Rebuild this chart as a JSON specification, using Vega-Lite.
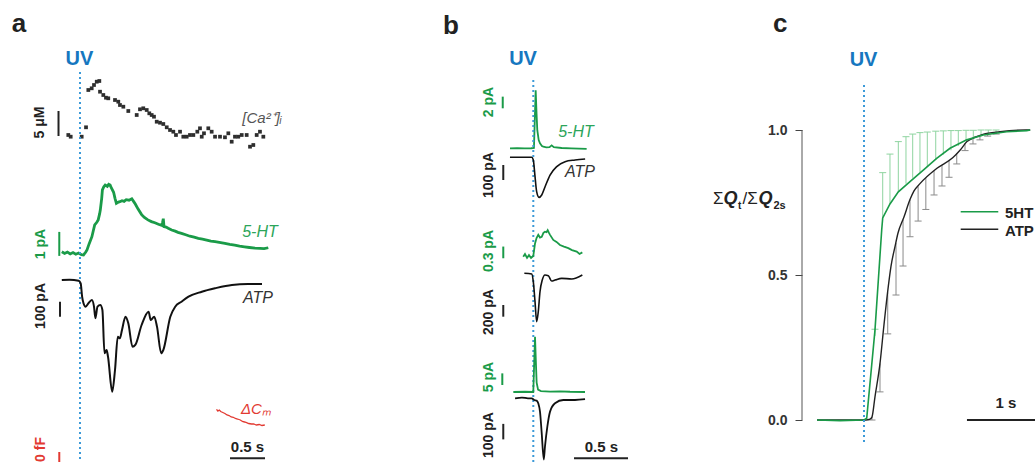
{
"$schema":"https://vega.github.io/schema/vega-lite/v6.json",
"padding":0,
"spacing":0,
"bounds":"flush",
"config":{"view":{"stroke":null},"text":{"font":"Liberation Sans"},"axis":{"labelFont":"Liberation Sans"}},
"datasets":{
"ca":[{"t":-0.167,"v":2.7},{"t":-0.133,"v":2.36},{"t":0.024,"v":2.36},{"t":0.086,"v":4.24},{"t":0.119,"v":11.7},{"t":0.167,"v":12.04},{"t":0.2,"v":12.7},{"t":0.239,"v":13.36},{"t":0.276,"v":13.5},{"t":0.286,"v":11.36},{"t":0.333,"v":10.7},{"t":0.371,"v":10.16},{"t":0.404,"v":10.04},{"t":0.5,"v":9.7},{"t":0.547,"v":9.36},{"t":0.571,"v":8.7},{"t":0.619,"v":8.36},{"t":0.69,"v":7.5},{"t":0.81,"v":6.7},{"t":0.857,"v":7.84},{"t":0.904,"v":8.04},{"t":0.953,"v":7.7},{"t":0.99,"v":7.04},{"t":1.024,"v":6.7},{"t":1.057,"v":6.36},{"t":1.096,"v":5.36},{"t":1.143,"v":5.16},{"t":1.19,"v":4.9},{"t":1.239,"v":4.24},{"t":1.286,"v":3.7},{"t":1.333,"v":3.36},{"t":1.371,"v":2.7},{"t":1.429,"v":3.36},{"t":1.476,"v":2.36},{"t":1.524,"v":2.36},{"t":1.571,"v":2.7},{"t":1.619,"v":2.7},{"t":1.676,"v":3.36},{"t":1.714,"v":4.04},{"t":1.739,"v":2.36},{"t":1.771,"v":3.04},{"t":1.833,"v":4.04},{"t":1.881,"v":3.36},{"t":1.929,"v":2.36},{"t":2.0,"v":2.36},{"t":2.071,"v":2.24},{"t":2.119,"v":3.04},{"t":2.167,"v":1.36},{"t":2.214,"v":2.36},{"t":2.261,"v":2.36},{"t":2.31,"v":2.7},{"t":2.381,"v":2.7},{"t":2.429,"v":0.36},{"t":2.476,"v":0.7},{"t":2.524,"v":2.7},{"t":2.571,"v":3.36},{"t":2.619,"v":2.36}],
"ht":[{"t":-0.26,"v":0.07},{"t":-0.22,"v":0.0},{"t":-0.18,"v":0.06},{"t":-0.14,"v":-0.02},{"t":-0.1,"v":0.04},{"t":-0.06,"v":-0.03},{"t":-0.02,"v":0.02},{"t":0.02,"v":-0.05},{"t":0.05,"v":-0.06},{"t":0.08,"v":0.05},{"t":0.1,"v":0.15},{"t":0.13,"v":0.4},{"t":0.17,"v":0.7},{"t":0.19,"v":0.95},{"t":0.21,"v":1.19},{"t":0.24,"v":1.3},{"t":0.26,"v":1.4},{"t":0.28,"v":1.65},{"t":0.29,"v":1.81},{"t":0.31,"v":2.3},{"t":0.32,"v":2.65},{"t":0.34,"v":2.78},{"t":0.36,"v":2.85},{"t":0.39,"v":2.8},{"t":0.41,"v":2.88},{"t":0.43,"v":2.85},{"t":0.45,"v":2.72},{"t":0.48,"v":2.55},{"t":0.5,"v":2.3},{"t":0.52,"v":2.09},{"t":0.55,"v":2.14},{"t":0.57,"v":2.16},{"t":0.6,"v":2.2},{"t":0.63,"v":2.17},{"t":0.66,"v":2.24},{"t":0.7,"v":2.22},{"t":0.74,"v":2.28},{"t":0.77,"v":2.15},{"t":0.79,"v":2.06},{"t":0.83,"v":1.85},{"t":0.88,"v":1.62},{"t":0.92,"v":1.5},{"t":0.97,"v":1.4},{"t":1.02,"v":1.33},{"t":1.07,"v":1.28},{"t":1.12,"v":1.22},{"t":1.17,"v":1.17},{"t":1.18,"v":1.3},{"t":1.19,"v":1.45},{"t":1.2,"v":1.12},{"t":1.23,"v":1.1},{"t":1.26,"v":1.05},{"t":1.31,"v":0.98},{"t":1.36,"v":0.93},{"t":1.4,"v":0.88},{"t":1.45,"v":0.84},{"t":1.51,"v":0.78},{"t":1.57,"v":0.72},{"t":1.63,"v":0.68},{"t":1.69,"v":0.63},{"t":1.75,"v":0.6},{"t":1.81,"v":0.56},{"t":1.87,"v":0.52},{"t":1.93,"v":0.49},{"t":1.99,"v":0.46},{"t":2.07,"v":0.42},{"t":2.14,"v":0.38},{"t":2.21,"v":0.35},{"t":2.28,"v":0.31},{"t":2.35,"v":0.28},{"t":2.42,"v":0.25},{"t":2.5,"v":0.22},{"t":2.57,"v":0.21},{"t":2.63,"v":0.2},{"t":2.69,"v":0.24}],
"atpa":[{"t":-0.26,"v":0},{"t":-0.15,"v":2},{"t":-0.02,"v":-5},{"t":0.01,"v":-22},{"t":0.03,"v":-111},{"t":0.05,"v":-155},{"t":0.08,"v":-178},{"t":0.12,"v":-155},{"t":0.17,"v":-133},{"t":0.2,"v":-178},{"t":0.22,"v":-255},{"t":0.25,"v":-178},{"t":0.29,"v":-167},{"t":0.32,"v":-200},{"t":0.35,"v":-489},{"t":0.38,"v":-467},{"t":0.4,"v":-511},{"t":0.46,"v":-745},{"t":0.5,"v":-600},{"t":0.54,"v":-378},{"t":0.57,"v":-389},{"t":0.6,"v":-333},{"t":0.65,"v":-245},{"t":0.69,"v":-289},{"t":0.75,"v":-445},{"t":0.79,"v":-433},{"t":0.88,"v":-300},{"t":0.98,"v":-211},{"t":1.01,"v":-267},{"t":1.06,"v":-245},{"t":1.1,"v":-311},{"t":1.16,"v":-489},{"t":1.19,"v":-467},{"t":1.29,"v":-245},{"t":1.36,"v":-178},{"t":1.45,"v":-145},{"t":1.55,"v":-111},{"t":1.74,"v":-78},{"t":1.93,"v":-55},{"t":2.17,"v":-33},{"t":2.4,"v":-27},{"t":2.6,"v":-27}],
"cm":[{"t":1.95,"v":41.4},{"t":1.97,"v":38},{"t":1.99,"v":40},{"t":2.01,"v":37},{"t":2.04,"v":35},{"t":2.07,"v":33},{"t":2.1,"v":30},{"t":2.13,"v":29},{"t":2.16,"v":26},{"t":2.19,"v":25.4},{"t":2.22,"v":23},{"t":2.25,"v":22},{"t":2.29,"v":20},{"t":2.32,"v":17},{"t":2.35,"v":16},{"t":2.38,"v":14.6},{"t":2.41,"v":13},{"t":2.45,"v":12},{"t":2.48,"v":12},{"t":2.52,"v":10},{"t":2.56,"v":11},{"t":2.6,"v":9},{"t":2.64,"v":10}],
"b1h":[{"t":-0.216,"v":0},{"t":-0.15,"v":0.02},{"t":-0.08,"v":-0.02},{"t":-0.02,"v":0.01},{"t":0.006,"v":0.05},{"t":0.014,"v":5},{"t":0.022,"v":9.95},{"t":0.03,"v":6},{"t":0.037,"v":3.1},{"t":0.05,"v":1.4},{"t":0.062,"v":0.86},{"t":0.08,"v":0.4},{"t":0.093,"v":0.27},{"t":0.12,"v":0.15},{"t":0.15,"v":0.2},{"t":0.17,"v":0.5},{"t":0.19,"v":0.2},{"t":0.263,"v":0.05},{"t":0.35,"v":0},{"t":0.494,"v":-0.1}],
"b1a":[{"t":-0.216,"v":0},{"t":-0.1,"v":0},{"t":-0.015,"v":0},{"t":0.0,"v":-18},{"t":0.016,"v":-129},{"t":0.031,"v":-229},{"t":0.053,"v":-267},{"t":0.078,"v":-251},{"t":0.109,"v":-196},{"t":0.155,"v":-118},{"t":0.217,"v":-62},{"t":0.294,"v":-29},{"t":0.387,"v":-18},{"t":0.48,"v":-11}],
"b2h":[{"t":-0.093,"v":0},{"t":-0.077,"v":0.07},{"t":-0.058,"v":-0.03},{"t":-0.04,"v":0.04},{"t":-0.021,"v":-0.03},{"t":0,"v":0.02},{"t":0.016,"v":0.34},{"t":0.03,"v":0.48},{"t":0.046,"v":0.56},{"t":0.062,"v":0.49},{"t":0.078,"v":0.51},{"t":0.094,"v":0.61},{"t":0.108,"v":0.64},{"t":0.122,"v":0.63},{"t":0.133,"v":0.68},{"t":0.145,"v":0.61},{"t":0.155,"v":0.56},{"t":0.185,"v":0.43},{"t":0.215,"v":0.38},{"t":0.247,"v":0.3},{"t":0.284,"v":0.26},{"t":0.324,"v":0.22},{"t":0.358,"v":0.17},{"t":0.402,"v":0.13},{"t":0.428,"v":0.07},{"t":0.454,"v":0.11}],
"b2a":[{"t":-0.083,"v":0},{"t":-0.015,"v":-12},{"t":0,"v":-144},{"t":0.016,"v":-486},{"t":0.031,"v":-828},{"t":0.046,"v":-657},{"t":0.062,"v":-315},{"t":0.083,"v":-115},{"t":0.108,"v":-29},{"t":0.139,"v":-41},{"t":0.17,"v":-132},{"t":0.201,"v":-115},{"t":0.263,"v":-86},{"t":0.356,"v":-97},{"t":0.454,"v":-29}],
"b3h":[{"t":-0.185,"v":0},{"t":-0.077,"v":0.1},{"t":0,"v":0},{"t":0.008,"v":12},{"t":0.016,"v":23.7},{"t":0.023,"v":14},{"t":0.031,"v":4},{"t":0.044,"v":1},{"t":0.071,"v":0.4},{"t":0.155,"v":0.2},{"t":0.247,"v":0.3},{"t":0.34,"v":0.1},{"t":0.479,"v":0}],
"b3a":[{"t":-0.169,"v":0},{"t":-0.105,"v":5},{"t":-0.049,"v":-1},{"t":-0.015,"v":0},{"t":0.009,"v":-11},{"t":0.031,"v":-15},{"t":0.046,"v":-32},{"t":0.062,"v":-86},{"t":0.078,"v":-226},{"t":0.097,"v":-395},{"t":0.108,"v":-312},{"t":0.13,"v":-183},{"t":0.155,"v":-86},{"t":0.201,"v":-32},{"t":0.278,"v":-11},{"t":0.386,"v":-11},{"t":0.479,"v":-6}],
"c5ht":[{"t":-0.608,"v":0},{"t":-0.31,"v":-0.002},{"t":0,"v":0},{"t":0.035,"v":0.006},{"t":0.142,"v":0.31},{"t":0.229,"v":0.655},{"t":0.242,"v":0.697},{"t":0.336,"v":0.745},{"t":0.444,"v":0.787},{"t":0.595,"v":0.822},{"t":0.767,"v":0.862},{"t":0.94,"v":0.902},{"t":1.113,"v":0.937},{"t":1.329,"v":0.966},{"t":1.543,"v":0.983},{"t":1.846,"v":0.994},{"t":2.105,"v":0.998},{"t":2.15,"v":1.0}],
"catp":[{"t":-0.608,"v":0},{"t":0.026,"v":0},{"t":0.078,"v":0.003},{"t":0.103,"v":0.01},{"t":0.142,"v":0.08},{"t":0.207,"v":0.195},{"t":0.259,"v":0.33},{"t":0.314,"v":0.46},{"t":0.349,"v":0.53},{"t":0.401,"v":0.598},{"t":0.44,"v":0.645},{"t":0.517,"v":0.7},{"t":0.595,"v":0.76},{"t":0.647,"v":0.79},{"t":0.724,"v":0.815},{"t":0.944,"v":0.868},{"t":1.151,"v":0.905},{"t":1.242,"v":0.93},{"t":1.332,"v":0.96},{"t":1.436,"v":0.975},{"t":1.539,"v":0.985},{"t":1.759,"v":0.994},{"t":2.096,"v":1.0},{"t":2.15,"v":1.0}],
"e5ht":[{"t":0.142,"m":0.29,"e":0.313},{"t":0.242,"m":0.697,"e":0.853},{"t":0.336,"m":0.745,"e":0.917},{"t":0.444,"m":0.787,"e":0.96},{"t":0.543,"m":0.815,"e":0.977},{"t":0.63,"m":0.835,"e":0.986},{"t":0.724,"m":0.855,"e":0.991},{"t":0.819,"m":0.872,"e":0.993},{"t":0.928,"m":0.898,"e":0.996},{"t":1.026,"m":0.915,"e":0.997},{"t":1.125,"m":0.93,"e":0.998},{"t":1.22,"m":0.945,"e":0.998},{"t":1.32,"m":0.962,"e":0.999},{"t":1.414,"m":0.97,"e":0.999},{"t":1.514,"m":0.978,"e":1.0},{"t":1.608,"m":0.985,"e":1.0},{"t":1.708,"m":0.99,"e":1.0}],
"eatp":[{"t":0.103,"m":0.01,"e":0.0},{"t":0.207,"m":0.195,"e":0.097},{"t":0.307,"m":0.44,"e":0.297},{"t":0.414,"m":0.61,"e":0.431},{"t":0.505,"m":0.69,"e":0.531},{"t":0.595,"m":0.76,"e":0.632},{"t":0.7,"m":0.805,"e":0.686},{"t":0.8,"m":0.835,"e":0.726},{"t":0.906,"m":0.86,"e":0.776},{"t":1.009,"m":0.88,"e":0.807},{"t":1.1,"m":0.897,"e":0.837},{"t":1.2,"m":0.92,"e":0.883},{"t":1.307,"m":0.955,"e":0.929},{"t":1.41,"m":0.972,"e":0.952},{"t":1.5,"m":0.982,"e":0.966},{"t":1.6,"m":0.988,"e":0.979},{"t":1.71,"m":0.993,"e":0.986}]
},
"hconcat":[
{"width":440,"height":462,"resolve":{"scale":{"y":"independent"}},
"layer":[
 {"layer":[
  {"data":{"name":"ca"},"mark":{"type":"square","size":14,"color":"#2e2e2e","opacity":1},
   "encoding":{"x":{"field":"t","type":"quantitative","scale":{"domain":[-1.142857,5.142857],"nice":false,"zero":false},"axis":null},"y":{"field":"v","type":"quantitative","scale":{"domain":[-62.7,29.7],"nice":false,"zero":false},"axis":null}}},
  {"data":{"values":[{}]},"mark":{"type":"rule","color":"#222","strokeWidth":2},
   "encoding":{"x":{"datum":-0.307,"type":"quantitative","scale":{"domain":[-1.142857,5.142857],"nice":false,"zero":false},"axis":null},"y":{"datum":2.5,"type":"quantitative","scale":{"domain":[-62.7,29.7],"nice":false,"zero":false},"axis":null},"y2":{"datum":7.5}}},
  {"data":{"values":[{}]},"mark":{"type":"text","text":"5 μM","angle":270,"align":"center","baseline":"middle","fontSize":14,"fontWeight":"bold","color":"#222"},
   "encoding":{"x":{"datum":-0.571,"type":"quantitative","scale":{"domain":[-1.142857,5.142857],"nice":false,"zero":false},"axis":null},"y":{"datum":5.2,"type":"quantitative","scale":{"domain":[-62.7,29.7],"nice":false,"zero":false},"axis":null}}},
  {"data":{"values":[{}]},"mark":{"type":"text","text":"a","align":"center","baseline":"alphabetic","fontSize":26,"fontWeight":"bold","color":"#222"},
   "encoding":{"x":{"datum":-0.871,"type":"quantitative","scale":{"domain":[-1.142857,5.142857],"nice":false,"zero":false},"axis":null},"y":{"datum":23.3,"type":"quantitative","scale":{"domain":[-62.7,29.7],"nice":false,"zero":false},"axis":null}}},
  {"data":{"values":[{}]},"mark":{"type":"text","text":"UV","align":"center","baseline":"alphabetic","fontSize":20,"fontWeight":"bold","color":"#1677c0"},
   "encoding":{"x":{"datum":-0.007,"type":"quantitative","scale":{"domain":[-1.142857,5.142857],"nice":false,"zero":false},"axis":null},"y":{"datum":16.7,"type":"quantitative","scale":{"domain":[-62.7,29.7],"nice":false,"zero":false},"axis":null}}},
  {"data":{"values":[{}]},"mark":{"type":"text","text":"[Ca²⁺]ᵢ","align":"center","baseline":"alphabetic","fontSize":15,"fontStyle":"italic","color":"#555"},
   "encoding":{"x":{"datum":2.6,"type":"quantitative","scale":{"domain":[-1.142857,5.142857],"nice":false,"zero":false},"axis":null},"y":{"datum":5.1,"type":"quantitative","scale":{"domain":[-62.7,29.7],"nice":false,"zero":false},"axis":null}}}
 ]},
 {"layer":[
  {"data":{"name":"ht"},"mark":{"type":"line","color":"#1a9b48","strokeWidth":2.8},
   "encoding":{"x":{"field":"t","type":"quantitative","scale":{"domain":[-1.142857,5.142857],"nice":false,"zero":false},"axis":null},"y":{"field":"v","type":"quantitative","scale":{"domain":[-8.6875,10.5625],"nice":false,"zero":false},"axis":null}}},
  {"data":{"values":[{}]},"mark":{"type":"rule","color":"#3c9ad8","strokeWidth":2,"strokeDash":[2,3],"clip":true},
   "encoding":{"x":{"datum":0,"type":"quantitative","scale":{"domain":[-1.142857,5.142857],"nice":false,"zero":false},"axis":null},"y":{"datum":7.5625,"type":"quantitative","scale":{"domain":[-8.6875,10.5625],"nice":false,"zero":false},"axis":null},"y2":{"datum":-8.6875}}},
  {"data":{"values":[{}]},"mark":{"type":"rule","color":"#1a9b48","strokeWidth":2},
   "encoding":{"x":{"datum":-0.296,"type":"quantitative","scale":{"domain":[-1.142857,5.142857],"nice":false,"zero":false},"axis":null},"y":{"datum":-0.1,"type":"quantitative","scale":{"domain":[-8.6875,10.5625],"nice":false,"zero":false},"axis":null},"y2":{"datum":0.9}}},
  {"data":{"values":[{}]},"mark":{"type":"text","text":"1 pA","angle":270,"align":"center","baseline":"middle","fontSize":14,"fontWeight":"bold","color":"#1a9b48"},
   "encoding":{"x":{"datum":-0.557,"type":"quantitative","scale":{"domain":[-1.142857,5.142857],"nice":false,"zero":false},"axis":null},"y":{"datum":0.396,"type":"quantitative","scale":{"domain":[-8.6875,10.5625],"nice":false,"zero":false},"axis":null}}},
  {"data":{"values":[{}]},"mark":{"type":"text","text":"5-HT","align":"center","baseline":"alphabetic","fontSize":16,"fontStyle":"italic","color":"#2ca55a"},
   "encoding":{"x":{"datum":2.571,"type":"quantitative","scale":{"domain":[-1.142857,5.142857],"nice":false,"zero":false},"axis":null},"y":{"datum":0.6875,"type":"quantitative","scale":{"domain":[-8.6875,10.5625],"nice":false,"zero":false},"axis":null}}}
 ]},
 {"layer":[
  {"data":{"name":"atpa"},"mark":{"type":"line","color":"#111","strokeWidth":2,"interpolate":"monotone"},
   "encoding":{"x":{"field":"t","type":"quantitative","scale":{"domain":[-1.142857,5.142857],"nice":false,"zero":false},"axis":null},"y":{"field":"v","type":"quantitative","scale":{"domain":[-1213.33,1866.67],"nice":false,"zero":false},"axis":null}}},
  {"data":{"values":[{}]},"mark":{"type":"rule","color":"#222","strokeWidth":2},
   "encoding":{"x":{"datum":-0.286,"type":"quantitative","scale":{"domain":[-1.142857,5.142857],"nice":false,"zero":false},"axis":null},"y":{"datum":-145,"type":"quantitative","scale":{"domain":[-1213.33,1866.67],"nice":false,"zero":false},"axis":null},"y2":{"datum":-245}}},
  {"data":{"values":[{}]},"mark":{"type":"text","text":"100 pA","angle":270,"align":"center","baseline":"middle","fontSize":14,"fontWeight":"bold","color":"#222"},
   "encoding":{"x":{"datum":-0.557,"type":"quantitative","scale":{"domain":[-1.142857,5.142857],"nice":false,"zero":false},"axis":null},"y":{"datum":-173,"type":"quantitative","scale":{"domain":[-1213.33,1866.67],"nice":false,"zero":false},"axis":null}}},
  {"data":{"values":[{}]},"mark":{"type":"text","text":"ATP","align":"center","baseline":"alphabetic","fontSize":16,"fontStyle":"italic","color":"#333"},
   "encoding":{"x":{"datum":2.543,"type":"quantitative","scale":{"domain":[-1.142857,5.142857],"nice":false,"zero":false},"axis":null},"y":{"datum":-153,"type":"quantitative","scale":{"domain":[-1213.33,1866.67],"nice":false,"zero":false},"axis":null}}}
 ]},
 {"layer":[
  {"data":{"name":"cm"},"mark":{"type":"line","color":"#e23a32","strokeWidth":1.3},
   "encoding":{"x":{"field":"t","type":"quantitative","scale":{"domain":[-1.142857,5.142857],"nice":false,"zero":false},"axis":null},"y":{"field":"v","type":"quantitative","scale":{"domain":[-64,860],"nice":false,"zero":false},"axis":null}}},
  {"data":{"values":[{}]},"mark":{"type":"rule","color":"#e23a32","strokeWidth":2,"clip":true},
   "encoding":{"x":{"datum":-0.296,"type":"quantitative","scale":{"domain":[-1.142857,5.142857],"nice":false,"zero":false},"axis":null},"y":{"datum":-44,"type":"quantitative","scale":{"domain":[-64,860],"nice":false,"zero":false},"axis":null},"y2":{"datum":-64}}},
  {"data":{"values":[{}]},"mark":{"type":"text","text":"50 fF","angle":270,"align":"center","baseline":"middle","fontSize":14,"fontWeight":"bold","color":"#e23a32","clip":true},
   "encoding":{"x":{"datum":-0.557,"type":"quantitative","scale":{"domain":[-1.142857,5.142857],"nice":false,"zero":false},"axis":null},"y":{"datum":-46.8,"type":"quantitative","scale":{"domain":[-64,860],"nice":false,"zero":false},"axis":null}}},
  {"data":{"values":[{}]},"mark":{"type":"text","text":"ΔCₘ","align":"center","baseline":"alphabetic","fontSize":15,"fontStyle":"italic","color":"#e23a32"},
   "encoding":{"x":{"datum":2.514,"type":"quantitative","scale":{"domain":[-1.142857,5.142857],"nice":false,"zero":false},"axis":null},"y":{"datum":32,"type":"quantitative","scale":{"domain":[-64,860],"nice":false,"zero":false},"axis":null}}},
  {"data":{"values":[{}]},"mark":{"type":"rule","color":"#222","strokeWidth":2},
   "encoding":{"x":{"datum":2.143,"type":"quantitative","scale":{"domain":[-1.142857,5.142857],"nice":false,"zero":false},"axis":null},"x2":{"datum":2.643},"y":{"datum":-56.6,"type":"quantitative","scale":{"domain":[-64,860],"nice":false,"zero":false},"axis":null}}},
  {"data":{"values":[{}]},"mark":{"type":"text","text":"0.5 s","align":"center","baseline":"alphabetic","fontSize":15,"fontWeight":"bold","color":"#222"},
   "encoding":{"x":{"datum":2.393,"type":"quantitative","scale":{"domain":[-1.142857,5.142857],"nice":false,"zero":false},"axis":null},"y":{"datum":-44,"type":"quantitative","scale":{"domain":[-64,860],"nice":false,"zero":false},"axis":null}}}
 ]}
]},
{"width":362,"height":462,"resolve":{"scale":{"y":"independent"}},
"layer":[
 {"layer":[
  {"data":{"name":"b1h"},"mark":{"type":"line","color":"#1a9b48","strokeWidth":1.8},
   "encoding":{"x":{"field":"t","type":"quantitative","scale":{"domain":[-0.8639,2.488],"nice":false,"zero":false},"axis":null},"y":{"field":"v","type":"quantitative","scale":{"domain":[-53.808,25.437],"nice":false,"zero":false},"axis":null}}},
  {"data":{"values":[{}]},"mark":{"type":"rule","color":"#3c9ad8","strokeWidth":2,"strokeDash":[2,3],"clip":true},
   "encoding":{"x":{"datum":0,"type":"quantitative","scale":{"domain":[-0.8639,2.488],"nice":false,"zero":false},"axis":null},"y":{"datum":11.71,"type":"quantitative","scale":{"domain":[-53.808,25.437],"nice":false,"zero":false},"axis":null},"y2":{"datum":-53.808}}},
  {"data":{"values":[{}]},"mark":{"type":"rule","color":"#1a9b48","strokeWidth":2},
   "encoding":{"x":{"datum":-0.283,"type":"quantitative","scale":{"domain":[-0.8639,2.488],"nice":false,"zero":false},"axis":null},"y":{"datum":6.86,"type":"quantitative","scale":{"domain":[-53.808,25.437],"nice":false,"zero":false},"axis":null},"y2":{"datum":8.86}}},
  {"data":{"values":[{}]},"mark":{"type":"text","text":"2 pA","angle":270,"align":"center","baseline":"middle","fontSize":14,"fontWeight":"bold","color":"#1a9b48"},
   "encoding":{"x":{"datum":-0.41,"type":"quantitative","scale":{"domain":[-0.8639,2.488],"nice":false,"zero":false},"axis":null},"y":{"datum":7.94,"type":"quantitative","scale":{"domain":[-53.808,25.437],"nice":false,"zero":false},"axis":null}}},
  {"data":{"values":[{}]},"mark":{"type":"text","text":"5-HT","align":"center","baseline":"alphabetic","fontSize":16,"fontStyle":"italic","color":"#2ca55a"},
   "encoding":{"x":{"datum":0.395,"type":"quantitative","scale":{"domain":[-0.8639,2.488],"nice":false,"zero":false},"axis":null},"y":{"datum":1.94,"type":"quantitative","scale":{"domain":[-53.808,25.437],"nice":false,"zero":false},"axis":null}}},
  {"data":{"values":[{}]},"mark":{"type":"text","text":"b","align":"center","baseline":"alphabetic","fontSize":26,"fontWeight":"bold","color":"#222"},
   "encoding":{"x":{"datum":-0.762,"type":"quantitative","scale":{"domain":[-0.8639,2.488],"nice":false,"zero":false},"axis":null},"y":{"datum":19.6,"type":"quantitative","scale":{"domain":[-53.808,25.437],"nice":false,"zero":false},"axis":null}}},
  {"data":{"values":[{}]},"mark":{"type":"text","text":"UV","align":"center","baseline":"alphabetic","fontSize":20,"fontWeight":"bold","color":"#1677c0"},
   "encoding":{"x":{"datum":-0.095,"type":"quantitative","scale":{"domain":[-0.8639,2.488],"nice":false,"zero":false},"axis":null},"y":{"datum":14.29,"type":"quantitative","scale":{"domain":[-53.808,25.437],"nice":false,"zero":false},"axis":null}}}
 ]},
 {"layer":[
  {"data":{"name":"b1a"},"mark":{"type":"line","color":"#111","strokeWidth":1.6,"interpolate":"monotone"},
   "encoding":{"x":{"field":"t","type":"quantitative","scale":{"domain":[-0.8639,2.488],"nice":false,"zero":false},"axis":null},"y":{"field":"v","type":"quantitative","scale":{"domain":[-2031.33,1048.67],"nice":false,"zero":false},"axis":null}}},
  {"data":{"values":[{}]},"mark":{"type":"rule","color":"#222","strokeWidth":2},
   "encoding":{"x":{"datum":-0.278,"type":"quantitative","scale":{"domain":[-0.8639,2.488],"nice":false,"zero":false},"axis":null},"y":{"datum":-51.3,"type":"quantitative","scale":{"domain":[-2031.33,1048.67],"nice":false,"zero":false},"axis":null},"y2":{"datum":-151.3}}},
  {"data":{"values":[{}]},"mark":{"type":"text","text":"100 pA","angle":270,"align":"center","baseline":"middle","fontSize":14,"fontWeight":"bold","color":"#222"},
   "encoding":{"x":{"datum":-0.41,"type":"quantitative","scale":{"domain":[-0.8639,2.488],"nice":false,"zero":false},"axis":null},"y":{"datum":-118,"type":"quantitative","scale":{"domain":[-2031.33,1048.67],"nice":false,"zero":false},"axis":null}}},
  {"data":{"values":[{}]},"mark":{"type":"text","text":"ATP","align":"center","baseline":"alphabetic","fontSize":16,"fontStyle":"italic","color":"#333"},
   "encoding":{"x":{"datum":0.432,"type":"quantitative","scale":{"domain":[-0.8639,2.488],"nice":false,"zero":false},"axis":null},"y":{"datum":-131,"type":"quantitative","scale":{"domain":[-2031.33,1048.67],"nice":false,"zero":false},"axis":null}}}
 ]},
 {"layer":[
  {"data":{"name":"b2h"},"mark":{"type":"line","color":"#1a9b48","strokeWidth":1.8},
   "encoding":{"x":{"field":"t","type":"quantitative","scale":{"domain":[-0.8639,2.488],"nice":false,"zero":false},"axis":null},"y":{"field":"v","type":"quantitative","scale":{"domain":[-5.264,6.582],"nice":false,"zero":false},"axis":null}}},
  {"data":{"values":[{}]},"mark":{"type":"rule","color":"#1a9b48","strokeWidth":2},
   "encoding":{"x":{"datum":-0.278,"type":"quantitative","scale":{"domain":[-0.8639,2.488],"nice":false,"zero":false},"axis":null},"y":{"datum":-0.04,"type":"quantitative","scale":{"domain":[-5.264,6.582],"nice":false,"zero":false},"axis":null},"y2":{"datum":0.26}}},
  {"data":{"values":[{}]},"mark":{"type":"text","text":"0.3 pA","angle":270,"align":"center","baseline":"middle","fontSize":14,"fontWeight":"bold","color":"#1a9b48"},
   "encoding":{"x":{"datum":-0.41,"type":"quantitative","scale":{"domain":[-0.8639,2.488],"nice":false,"zero":false},"axis":null},"y":{"datum":0.146,"type":"quantitative","scale":{"domain":[-5.264,6.582],"nice":false,"zero":false},"axis":null}}}
 ]},
 {"layer":[
  {"data":{"name":"b2a"},"mark":{"type":"line","color":"#111","strokeWidth":1.6,"interpolate":"monotone"},
   "encoding":{"x":{"field":"t","type":"quantitative","scale":{"domain":[-0.8639,2.488],"nice":false,"zero":false},"axis":null},"y":{"field":"v","type":"quantitative","scale":{"domain":[-3226.7,4673.4],"nice":false,"zero":false},"axis":null}}},
  {"data":{"values":[{}]},"mark":{"type":"rule","color":"#222","strokeWidth":2},
   "encoding":{"x":{"datum":-0.278,"type":"quantitative","scale":{"domain":[-0.8639,2.488],"nice":false,"zero":false},"axis":null},"y":{"datum":-542,"type":"quantitative","scale":{"domain":[-3226.7,4673.4],"nice":false,"zero":false},"axis":null},"y2":{"datum":-742}}},
  {"data":{"values":[{}]},"mark":{"type":"text","text":"200 pA","angle":270,"align":"center","baseline":"middle","fontSize":14,"fontWeight":"bold","color":"#222"},
   "encoding":{"x":{"datum":-0.41,"type":"quantitative","scale":{"domain":[-0.8639,2.488],"nice":false,"zero":false},"axis":null},"y":{"datum":-662,"type":"quantitative","scale":{"domain":[-3226.7,4673.4],"nice":false,"zero":false},"axis":null}}}
 ]},
 {"layer":[
  {"data":{"name":"b3h"},"mark":{"type":"line","color":"#1a9b48","strokeWidth":1.8},
   "encoding":{"x":{"field":"t","type":"quantitative","scale":{"domain":[-0.8639,2.488],"nice":false,"zero":false},"axis":null},"y":{"field":"v","type":"quantitative","scale":{"domain":[-30.043,168.24],"nice":false,"zero":false},"axis":null}}},
  {"data":{"values":[{}]},"mark":{"type":"rule","color":"#1a9b48","strokeWidth":2},
   "encoding":{"x":{"datum":-0.287,"type":"quantitative","scale":{"domain":[-0.8639,2.488],"nice":false,"zero":false},"axis":null},"y":{"datum":3,"type":"quantitative","scale":{"domain":[-30.043,168.24],"nice":false,"zero":false},"axis":null},"y2":{"datum":8}}},
  {"data":{"values":[{}]},"mark":{"type":"text","text":"5 pA","angle":270,"align":"center","baseline":"middle","fontSize":14,"fontWeight":"bold","color":"#1a9b48"},
   "encoding":{"x":{"datum":-0.41,"type":"quantitative","scale":{"domain":[-0.8639,2.488],"nice":false,"zero":false},"axis":null},"y":{"datum":6.44,"type":"quantitative","scale":{"domain":[-30.043,168.24],"nice":false,"zero":false},"axis":null}}}
 ]},
 {"layer":[
  {"data":{"name":"b3a"},"mark":{"type":"line","color":"#111","strokeWidth":1.8,"clip":true,"interpolate":"monotone"},
   "encoding":{"x":{"field":"t","type":"quantitative","scale":{"domain":[-0.8639,2.488],"nice":false,"zero":false},"axis":null},"y":{"field":"v","type":"quantitative","scale":{"domain":[-410.97,2569.7],"nice":false,"zero":false},"axis":null}}},
  {"data":{"values":[{}]},"mark":{"type":"rule","color":"#222","strokeWidth":2},
   "encoding":{"x":{"datum":-0.278,"type":"quantitative","scale":{"domain":[-0.8639,2.488],"nice":false,"zero":false},"axis":null},"y":{"datum":-165,"type":"quantitative","scale":{"domain":[-410.97,2569.7],"nice":false,"zero":false},"axis":null},"y2":{"datum":-265}}},
  {"data":{"values":[{}]},"mark":{"type":"text","text":"100 pA","angle":270,"align":"center","baseline":"middle","fontSize":14,"fontWeight":"bold","color":"#222","clip":true},
   "encoding":{"x":{"datum":-0.41,"type":"quantitative","scale":{"domain":[-0.8639,2.488],"nice":false,"zero":false},"axis":null},"y":{"datum":-237,"type":"quantitative","scale":{"domain":[-410.97,2569.7],"nice":false,"zero":false},"axis":null}}},
  {"data":{"values":[{}]},"mark":{"type":"rule","color":"#222","strokeWidth":2},
   "encoding":{"x":{"datum":0.377,"type":"quantitative","scale":{"domain":[-0.8639,2.488],"nice":false,"zero":false},"axis":null},"x2":{"datum":0.877},"y":{"datum":-387,"type":"quantitative","scale":{"domain":[-410.97,2569.7],"nice":false,"zero":false},"axis":null}}},
  {"data":{"values":[{}]},"mark":{"type":"text","text":"0.5 s","align":"center","baseline":"alphabetic","fontSize":15,"fontWeight":"bold","color":"#222"},
   "encoding":{"x":{"datum":0.631,"type":"quantitative","scale":{"domain":[-0.8639,2.488],"nice":false,"zero":false},"axis":null},"y":{"datum":-346,"type":"quantitative","scale":{"domain":[-410.97,2569.7],"nice":false,"zero":false},"axis":null}}}
 ]}
]},
{"width":233,"height":462,
"layer":[
 {"data":{"name":"e5ht"},"mark":{"type":"rule","color":"#8fd4a0","strokeWidth":1},
  "encoding":{"x":{"field":"t","type":"quantitative","scale":{"domain":[-0.8021,2.2122],"nice":false,"zero":false},"axis":null},"y":{"field":"m","type":"quantitative","scale":{"domain":[-0.1448,1.4483],"nice":false,"zero":false},"axis":{"values":[0,0.5,1],"format":".1f","domain":false,"grid":false,"ticks":true,"tickColor":"#444","tickWidth":1,"tickSize":7,"labelFontSize":14,"labelFontWeight":"bold","labelColor":"#333","labelPadding":8,"title":null}},"y2":{"field":"e"}}},
 {"data":{"name":"e5ht"},"mark":{"type":"tick","orient":"horizontal","size":7,"thickness":1,"color":"#8fd4a0","opacity":1},
  "encoding":{"x":{"field":"t","type":"quantitative","scale":{"domain":[-0.8021,2.2122],"nice":false,"zero":false},"axis":null},"y":{"field":"e","type":"quantitative","scale":{"domain":[-0.1448,1.4483],"nice":false,"zero":false},"axis":{"values":[0,0.5,1],"format":".1f","domain":false,"grid":false,"ticks":true,"tickColor":"#444","tickWidth":1,"tickSize":7,"labelFontSize":14,"labelFontWeight":"bold","labelColor":"#333","labelPadding":8,"title":null}}}},
 {"data":{"name":"eatp"},"mark":{"type":"rule","color":"#8a8a8a","strokeWidth":1},
  "encoding":{"x":{"field":"t","type":"quantitative","scale":{"domain":[-0.8021,2.2122],"nice":false,"zero":false},"axis":null},"y":{"field":"m","type":"quantitative","scale":{"domain":[-0.1448,1.4483],"nice":false,"zero":false},"axis":{"values":[0,0.5,1],"format":".1f","domain":false,"grid":false,"ticks":true,"tickColor":"#444","tickWidth":1,"tickSize":7,"labelFontSize":14,"labelFontWeight":"bold","labelColor":"#333","labelPadding":8,"title":null}},"y2":{"field":"e"}}},
 {"data":{"name":"eatp"},"mark":{"type":"tick","orient":"horizontal","size":7,"thickness":1,"color":"#8a8a8a","opacity":1},
  "encoding":{"x":{"field":"t","type":"quantitative","scale":{"domain":[-0.8021,2.2122],"nice":false,"zero":false},"axis":null},"y":{"field":"e","type":"quantitative","scale":{"domain":[-0.1448,1.4483],"nice":false,"zero":false},"axis":{"values":[0,0.5,1],"format":".1f","domain":false,"grid":false,"ticks":true,"tickColor":"#444","tickWidth":1,"tickSize":7,"labelFontSize":14,"labelFontWeight":"bold","labelColor":"#333","labelPadding":8,"title":null}}}},
 {"data":{"name":"catp"},"mark":{"type":"line","color":"#222","strokeWidth":1.4,"interpolate":"monotone"},
  "encoding":{"x":{"field":"t","type":"quantitative","scale":{"domain":[-0.8021,2.2122],"nice":false,"zero":false},"axis":null},"y":{"field":"v","type":"quantitative","scale":{"domain":[-0.1448,1.4483],"nice":false,"zero":false},"axis":{"values":[0,0.5,1],"format":".1f","domain":false,"grid":false,"ticks":true,"tickColor":"#444","tickWidth":1,"tickSize":7,"labelFontSize":14,"labelFontWeight":"bold","labelColor":"#333","labelPadding":8,"title":null}}}},
 {"data":{"name":"c5ht"},"mark":{"type":"line","color":"#1a9b48","strokeWidth":1.6},
  "encoding":{"x":{"field":"t","type":"quantitative","scale":{"domain":[-0.8021,2.2122],"nice":false,"zero":false},"axis":null},"y":{"field":"v","type":"quantitative","scale":{"domain":[-0.1448,1.4483],"nice":false,"zero":false},"axis":{"values":[0,0.5,1],"format":".1f","domain":false,"grid":false,"ticks":true,"tickColor":"#444","tickWidth":1,"tickSize":7,"labelFontSize":14,"labelFontWeight":"bold","labelColor":"#333","labelPadding":8,"title":null}}}},
 {"data":{"values":[{}]},"mark":{"type":"rule","color":"#3c9ad8","strokeWidth":2,"strokeDash":[2,3]},
  "encoding":{"x":{"datum":0,"type":"quantitative","scale":{"domain":[-0.8021,2.2122],"nice":false,"zero":false},"axis":null},"y":{"datum":1.155,"type":"quantitative","scale":{"domain":[-0.1448,1.4483],"nice":false,"zero":false},"axis":{"values":[0,0.5,1],"format":".1f","domain":false,"grid":false,"ticks":true,"tickColor":"#444","tickWidth":1,"tickSize":7,"labelFontSize":14,"labelFontWeight":"bold","labelColor":"#333","labelPadding":8,"title":null}},"y2":{"datum":-0.0862}}},
 {"data":{"values":[{}]},"mark":{"type":"rule","color":"#555","strokeWidth":1},
  "encoding":{"x":{"datum":-0.8021,"type":"quantitative","scale":{"domain":[-0.8021,2.2122],"nice":false,"zero":false},"axis":null},"y":{"datum":0,"type":"quantitative","scale":{"domain":[-0.1448,1.4483],"nice":false,"zero":false},"axis":{"values":[0,0.5,1],"format":".1f","domain":false,"grid":false,"ticks":true,"tickColor":"#444","tickWidth":1,"tickSize":7,"labelFontSize":14,"labelFontWeight":"bold","labelColor":"#333","labelPadding":8,"title":null}},"y2":{"datum":1}}},
 {"data":{"values":[{}]},"mark":{"type":"rule","color":"#1a9b48","strokeWidth":1.6},
  "encoding":{"x":{"datum":1.251,"type":"quantitative","scale":{"domain":[-0.8021,2.2122],"nice":false,"zero":false},"axis":null},"x2":{"datum":1.737},"y":{"datum":0.718,"type":"quantitative","scale":{"domain":[-0.1448,1.4483],"nice":false,"zero":false},"axis":{"values":[0,0.5,1],"format":".1f","domain":false,"grid":false,"ticks":true,"tickColor":"#444","tickWidth":1,"tickSize":7,"labelFontSize":14,"labelFontWeight":"bold","labelColor":"#333","labelPadding":8,"title":null}}}},
 {"data":{"values":[{}]},"mark":{"type":"rule","color":"#222","strokeWidth":1.4},
  "encoding":{"x":{"datum":1.251,"type":"quantitative","scale":{"domain":[-0.8021,2.2122],"nice":false,"zero":false},"axis":null},"x2":{"datum":1.737},"y":{"datum":0.658,"type":"quantitative","scale":{"domain":[-0.1448,1.4483],"nice":false,"zero":false},"axis":{"values":[0,0.5,1],"format":".1f","domain":false,"grid":false,"ticks":true,"tickColor":"#444","tickWidth":1,"tickSize":7,"labelFontSize":14,"labelFontWeight":"bold","labelColor":"#333","labelPadding":8,"title":null}}}},
 {"data":{"values":[{}]},"mark":{"type":"text","text":"5HT","align":"left","baseline":"alphabetic","fontSize":15,"fontWeight":"bold","color":"#222","clip":true},
  "encoding":{"x":{"datum":1.824,"type":"quantitative","scale":{"domain":[-0.8021,2.2122],"nice":false,"zero":false},"axis":null},"y":{"datum":0.697,"type":"quantitative","scale":{"domain":[-0.1448,1.4483],"nice":false,"zero":false},"axis":{"values":[0,0.5,1],"format":".1f","domain":false,"grid":false,"ticks":true,"tickColor":"#444","tickWidth":1,"tickSize":7,"labelFontSize":14,"labelFontWeight":"bold","labelColor":"#333","labelPadding":8,"title":null}}}},
 {"data":{"values":[{}]},"mark":{"type":"text","text":"ATP","align":"left","baseline":"alphabetic","fontSize":15,"fontWeight":"bold","color":"#222","clip":true},
  "encoding":{"x":{"datum":1.824,"type":"quantitative","scale":{"domain":[-0.8021,2.2122],"nice":false,"zero":false},"axis":null},"y":{"datum":0.636,"type":"quantitative","scale":{"domain":[-0.1448,1.4483],"nice":false,"zero":false},"axis":{"values":[0,0.5,1],"format":".1f","domain":false,"grid":false,"ticks":true,"tickColor":"#444","tickWidth":1,"tickSize":7,"labelFontSize":14,"labelFontWeight":"bold","labelColor":"#333","labelPadding":8,"title":null}}}},
 {"data":{"values":[{}]},"mark":{"type":"rule","color":"#222","strokeWidth":2,"clip":true},
  "encoding":{"x":{"datum":1.332,"type":"quantitative","scale":{"domain":[-0.8021,2.2122],"nice":false,"zero":false},"axis":null},"x2":{"datum":2.332},"y":{"datum":0,"type":"quantitative","scale":{"domain":[-0.1448,1.4483],"nice":false,"zero":false},"axis":{"values":[0,0.5,1],"format":".1f","domain":false,"grid":false,"ticks":true,"tickColor":"#444","tickWidth":1,"tickSize":7,"labelFontSize":14,"labelFontWeight":"bold","labelColor":"#333","labelPadding":8,"title":null}}}},
 {"data":{"values":[{}]},"mark":{"type":"text","text":"1 s","align":"center","baseline":"alphabetic","fontSize":15,"fontWeight":"bold","color":"#222"},
  "encoding":{"x":{"datum":1.837,"type":"quantitative","scale":{"domain":[-0.8021,2.2122],"nice":false,"zero":false},"axis":null},"y":{"datum":0.0414,"type":"quantitative","scale":{"domain":[-0.1448,1.4483],"nice":false,"zero":false},"axis":{"values":[0,0.5,1],"format":".1f","domain":false,"grid":false,"ticks":true,"tickColor":"#444","tickWidth":1,"tickSize":7,"labelFontSize":14,"labelFontWeight":"bold","labelColor":"#333","labelPadding":8,"title":null}}}},
 {"data":{"values":[{}]},"mark":{"type":"text","text":"c","align":"center","baseline":"alphabetic","fontSize":26,"fontWeight":"bold","color":"#222"},
  "encoding":{"x":{"datum":-1.083,"type":"quantitative","scale":{"domain":[-0.8021,2.2122],"nice":false,"zero":false},"axis":null},"y":{"datum":1.338,"type":"quantitative","scale":{"domain":[-0.1448,1.4483],"nice":false,"zero":false},"axis":{"values":[0,0.5,1],"format":".1f","domain":false,"grid":false,"ticks":true,"tickColor":"#444","tickWidth":1,"tickSize":7,"labelFontSize":14,"labelFontWeight":"bold","labelColor":"#333","labelPadding":8,"title":null}}}},
 {"data":{"values":[{}]},"mark":{"type":"text","text":"UV","align":"center","baseline":"alphabetic","fontSize":20,"fontWeight":"bold","color":"#1677c0"},
  "encoding":{"x":{"datum":-0.006,"type":"quantitative","scale":{"domain":[-0.8021,2.2122],"nice":false,"zero":false},"axis":null},"y":{"datum":1.222,"type":"quantitative","scale":{"domain":[-0.1448,1.4483],"nice":false,"zero":false},"axis":{"values":[0,0.5,1],"format":".1f","domain":false,"grid":false,"ticks":true,"tickColor":"#444","tickWidth":1,"tickSize":7,"labelFontSize":14,"labelFontWeight":"bold","labelColor":"#333","labelPadding":8,"title":null}}}},
 {"data":{"values":[{}]},"mark":{"type":"text","text":"Σ","align":"left","baseline":"alphabetic","fontSize":17,"color":"#222"},
  "encoding":{"x":{"datum":-1.953,"type":"quantitative","scale":{"domain":[-0.8021,2.2122],"nice":false,"zero":false},"axis":null},"y":{"datum":0.745,"type":"quantitative","scale":{"domain":[-0.1448,1.4483],"nice":false,"zero":false},"axis":{"values":[0,0.5,1],"format":".1f","domain":false,"grid":false,"ticks":true,"tickColor":"#444","tickWidth":1,"tickSize":7,"labelFontSize":14,"labelFontWeight":"bold","labelColor":"#333","labelPadding":8,"title":null}}}},
 {"data":{"values":[{}]},"mark":{"type":"text","text":"Q","align":"left","baseline":"alphabetic","fontSize":18,"fontWeight":"bold","fontStyle":"italic","color":"#222"},
  "encoding":{"x":{"datum":-1.818,"type":"quantitative","scale":{"domain":[-0.8021,2.2122],"nice":false,"zero":false},"axis":null},"y":{"datum":0.745,"type":"quantitative","scale":{"domain":[-0.1448,1.4483],"nice":false,"zero":false},"axis":{"values":[0,0.5,1],"format":".1f","domain":false,"grid":false,"ticks":true,"tickColor":"#444","tickWidth":1,"tickSize":7,"labelFontSize":14,"labelFontWeight":"bold","labelColor":"#333","labelPadding":8,"title":null}}}},
 {"data":{"values":[{}]},"mark":{"type":"text","text":"t","align":"left","baseline":"alphabetic","fontSize":10,"fontWeight":"bold","color":"#222"},
  "encoding":{"x":{"datum":-1.63,"type":"quantitative","scale":{"domain":[-0.8021,2.2122],"nice":false,"zero":false},"axis":null},"y":{"datum":0.7276,"type":"quantitative","scale":{"domain":[-0.1448,1.4483],"nice":false,"zero":false},"axis":{"values":[0,0.5,1],"format":".1f","domain":false,"grid":false,"ticks":true,"tickColor":"#444","tickWidth":1,"tickSize":7,"labelFontSize":14,"labelFontWeight":"bold","labelColor":"#333","labelPadding":8,"title":null}}}},
 {"data":{"values":[{}]},"mark":{"type":"text","text":"/Σ","align":"left","baseline":"alphabetic","fontSize":17,"color":"#222"},
  "encoding":{"x":{"datum":-1.572,"type":"quantitative","scale":{"domain":[-0.8021,2.2122],"nice":false,"zero":false},"axis":null},"y":{"datum":0.745,"type":"quantitative","scale":{"domain":[-0.1448,1.4483],"nice":false,"zero":false},"axis":{"values":[0,0.5,1],"format":".1f","domain":false,"grid":false,"ticks":true,"tickColor":"#444","tickWidth":1,"tickSize":7,"labelFontSize":14,"labelFontWeight":"bold","labelColor":"#333","labelPadding":8,"title":null}}}},
 {"data":{"values":[{}]},"mark":{"type":"text","text":"Q","align":"left","baseline":"alphabetic","fontSize":18,"fontWeight":"bold","fontStyle":"italic","color":"#222"},
  "encoding":{"x":{"datum":-1.365,"type":"quantitative","scale":{"domain":[-0.8021,2.2122],"nice":false,"zero":false},"axis":null},"y":{"datum":0.745,"type":"quantitative","scale":{"domain":[-0.1448,1.4483],"nice":false,"zero":false},"axis":{"values":[0,0.5,1],"format":".1f","domain":false,"grid":false,"ticks":true,"tickColor":"#444","tickWidth":1,"tickSize":7,"labelFontSize":14,"labelFontWeight":"bold","labelColor":"#333","labelPadding":8,"title":null}}}},
 {"data":{"values":[{}]},"mark":{"type":"text","text":"2s","align":"left","baseline":"alphabetic","fontSize":11,"fontWeight":"bold","color":"#222"},
  "encoding":{"x":{"datum":-1.171,"type":"quantitative","scale":{"domain":[-0.8021,2.2122],"nice":false,"zero":false},"axis":null},"y":{"datum":0.7276,"type":"quantitative","scale":{"domain":[-0.1448,1.4483],"nice":false,"zero":false},"axis":{"values":[0,0.5,1],"format":".1f","domain":false,"grid":false,"ticks":true,"tickColor":"#444","tickWidth":1,"tickSize":7,"labelFontSize":14,"labelFontWeight":"bold","labelColor":"#333","labelPadding":8,"title":null}}}}
]}
]
}
